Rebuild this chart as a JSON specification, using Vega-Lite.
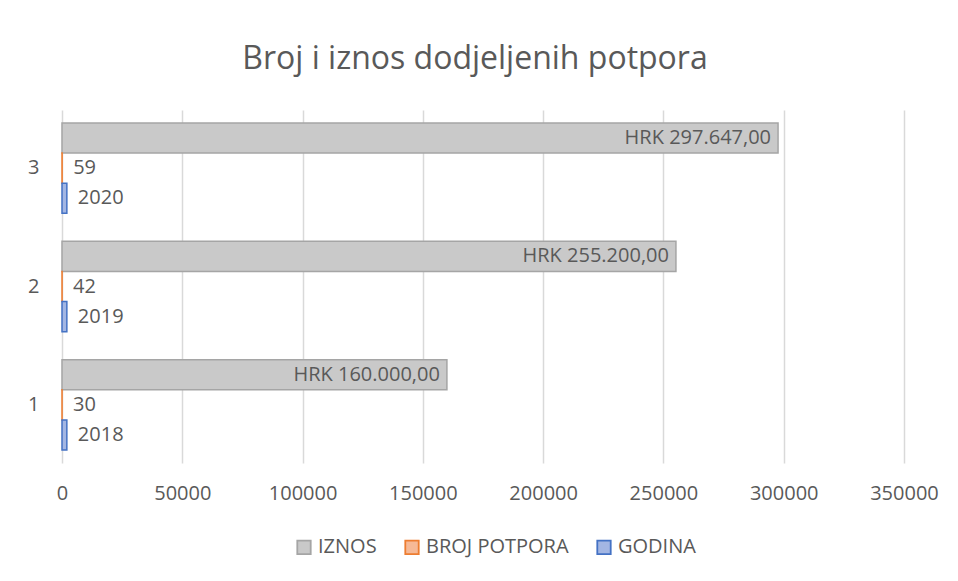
{
  "$schema": "https://vega.github.io/schema/vega-lite/v6.json",
  "width": 842,
  "height": 353,
  "autosize": {"type": "none"},
  "padding": {"left": 62, "top": 110, "right": 54, "bottom": 118},
  "background": "white",
  "config": {"view": {"stroke": null}, "font": "Open Sans"},
  "title": {"text": "Broj i iznos dodjeljenih potpora", "font": "Open Sans", "fontSize": 32, "fontWeight": "normal", "color": "#595959", "anchor": "middle", "offset": 34, "dx": -8},
  "data": {"values": [
    {"kategorija": "1", "serija": "IZNOS", "vrijednost": 160000, "oznaka": "HRK 160.000,00"},
    {"kategorija": "1", "serija": "BROJ POTPORA", "vrijednost": 30, "oznaka": "30"},
    {"kategorija": "1", "serija": "GODINA", "vrijednost": 2018, "oznaka": "2018"},
    {"kategorija": "2", "serija": "IZNOS", "vrijednost": 255200, "oznaka": "HRK 255.200,00"},
    {"kategorija": "2", "serija": "BROJ POTPORA", "vrijednost": 42, "oznaka": "42"},
    {"kategorija": "2", "serija": "GODINA", "vrijednost": 2019, "oznaka": "2019"},
    {"kategorija": "3", "serija": "IZNOS", "vrijednost": 297647, "oznaka": "HRK 297.647,00"},
    {"kategorija": "3", "serija": "BROJ POTPORA", "vrijednost": 59, "oznaka": "59"},
    {"kategorija": "3", "serija": "GODINA", "vrijednost": 2020, "oznaka": "2020"}
  ]},
  "encoding": {
    "y": {"field": "kategorija", "type": "nominal", "sort": "descending",
      "scale": {"paddingInner": 0.237, "paddingOuter": 0.11},
      "axis": {"title": null, "domain": false, "ticks": false, "grid": false, "labelPadding": 23, "labelFontSize": 20, "labelColor": "#595959", "labelFont": "Open Sans", "labelAngle": 0}},
    "yOffset": {"field": "serija", "type": "nominal", "sort": ["IZNOS", "BROJ POTPORA", "GODINA"]},
    "x": {"field": "vrijednost", "type": "quantitative",
      "scale": {"domain": [0, 350000], "nice": false},
      "axis": {"title": null, "domain": false, "ticks": false, "grid": true, "gridColor": "#d9d9d9", "gridWidth": 1.5, "values": [0, 50000, 100000, 150000, 200000, 250000, 300000, 350000], "format": "d", "labelFlush": false, "labelOverlap": false, "labelPadding": 20, "labelFontSize": 20, "labelColor": "#595959", "labelFont": "Open Sans"}}
  },
  "layer": [
    {
      "mark": {"type": "bar", "strokeWidth": 1.5},
      "encoding": {
        "fill": {"field": "serija", "type": "nominal",
          "scale": {"domain": ["IZNOS", "BROJ POTPORA", "GODINA"], "range": ["#c9c9c9", "#f6b996", "#a3b6e3"]},
          "legend": {"title": null, "orient": "none", "legendX": 232, "legendY": 427, "direction": "horizontal", "symbolType": "square", "symbolSize": 180, "symbolStrokeWidth": 1.8, "labelFontSize": 20, "labelFont": "Open Sans", "labelColor": "#595959", "columnPadding": 24, "labelOffset": 4}},
        "stroke": {"field": "serija", "type": "nominal",
          "scale": {"domain": ["IZNOS", "BROJ POTPORA", "GODINA"], "range": ["#a5a5a5", "#ed7d31", "#4472c4"]},
          "legend": {"title": null, "orient": "none", "legendX": 232, "legendY": 427, "direction": "horizontal", "symbolType": "square", "symbolSize": 180, "symbolStrokeWidth": 1.8, "labelFontSize": 20, "labelFont": "Open Sans", "labelColor": "#595959", "columnPadding": 24, "labelOffset": 4}}
      }
    },
    {
      "transform": [{"filter": "datum.serija == 'IZNOS'"}],
      "mark": {"type": "text", "align": "right", "baseline": "middle", "dx": -7, "fontSize": 20, "font": "Open Sans", "color": "#595959"},
      "encoding": {"text": {"field": "oznaka"}}
    },
    {
      "transform": [{"filter": "datum.serija != 'IZNOS'"}],
      "mark": {"type": "text", "align": "left", "baseline": "middle", "dx": 11, "fontSize": 20, "font": "Open Sans", "color": "#595959"},
      "encoding": {"text": {"field": "oznaka"}}
    }
  ]
}
